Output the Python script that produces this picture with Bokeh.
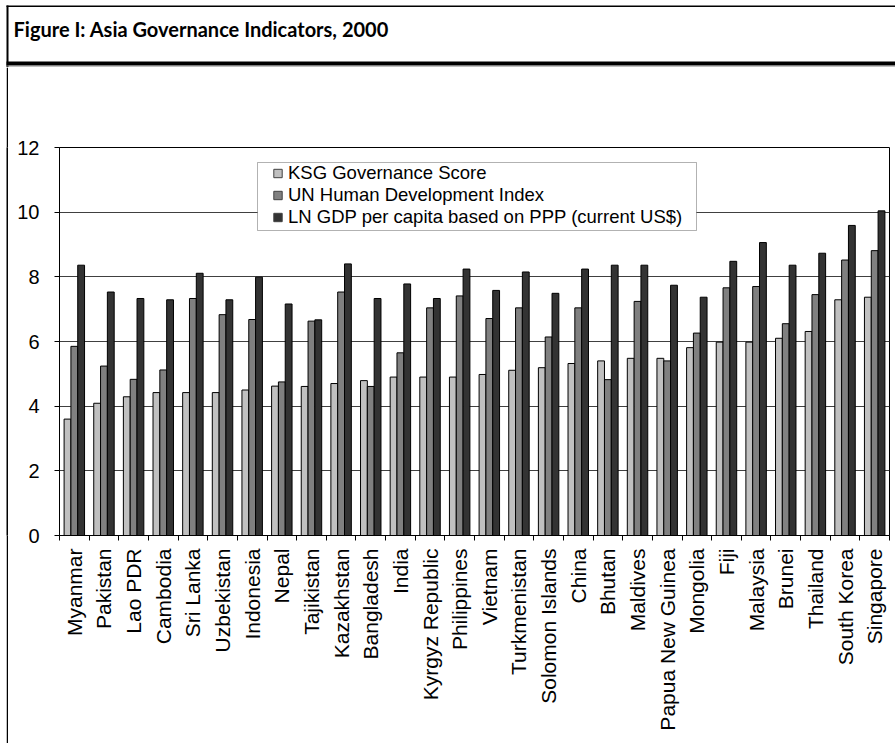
import numpy as np
from bokeh.plotting import figure
from bokeh.layouts import column, row
from bokeh.models import (Range1d, FixedTicker, Legend, LegendItem, Label, Spacer,
                          BoxAnnotation, ColumnDataSource)
from bokeh.transform import dodge
from bokeh.embed import file_html
from bokeh.resources import INLINE

# ---------------- data ----------------
countries = ["Myanmar", "Pakistan", "Lao PDR", "Cambodia", "Sri Lanka", "Uzbekistan",
             "Indonesia", "Nepal", "Tajikistan", "Kazakhstan", "Bangladesh", "India",
             "Kyrgyz Republic", "Philippines", "Vietnam", "Turkmenistan", "Solomon Islands",
             "China", "Bhutan", "Maldives", "Papua New Guinea", "Mongolia", "Fiji",
             "Malaysia", "Brunei", "Thailand", "South Korea", "Singapore"]
ksg = [3.60, 4.09, 4.29, 4.42, 4.42, 4.42, 4.50, 4.62, 4.61, 4.70, 4.79, 4.90, 4.90, 4.90,
       4.98, 5.11, 5.19, 5.32, 5.40, 5.48, 5.48, 5.81, 5.98, 5.98, 6.10, 6.31, 7.29, 7.37]
hdi = [5.85, 5.24, 4.83, 5.12, 7.33, 6.83, 6.68, 4.75, 6.63, 7.53, 4.61, 5.65, 7.04, 7.41,
       6.71, 7.04, 6.14, 7.04, 4.82, 7.24, 5.40, 6.26, 7.66, 7.70, 6.55, 7.45, 8.52, 8.81]
gdp = [8.36, 7.53, 7.33, 7.29, 8.11, 7.29, 7.99, 7.16, 6.67, 8.40, 7.33, 7.78, 7.33, 8.24,
       7.58, 8.15, 7.49, 8.24, 8.36, 8.36, 7.74, 7.37, 8.48, 9.06, 8.36, 8.73, 9.59, 10.04]
series_labels = ["KSG Governance Score", "UN Human Development Index",
                 "LN GDP per capita based on PPP (current US$)"]
y_ticks = [0, 2, 4, 6, 8, 10, 12]
title_text = "Figure I: Asia Governance Indicators, 2000"

colors = ["#c0c0c0", "#808080", "#333333"]
n = len(countries)
centers = [i + 0.5 for i in range(n)]
bounds = list(range(n + 1))
bw = 0.23

# ---------------- page geometry (pixels) ----------------
PW, PH = 895, 743
HEAD_H = 67          # header strip holding the title and the heavy rule
EDGE_X, EDGE_W = 6, 2  # page frame line on the left
FRAME_L, FRAME_R, FRAME_T, FRAME_B = 59, 889, 147, 535

def deco_fig(w, h, x0, y0, fill="white"):
    f = figure(width=w, height=h, x_range=Range1d(x0, x0 + w), y_range=Range1d(y0 + h, y0),
               output_backend="svg", toolbar_location=None, x_axis_type=None,
               y_axis_type=None, min_border=0, outline_line_color=None,
               background_fill_color=fill, border_fill_color=fill)
    f.xgrid.visible = False
    f.ygrid.visible = False
    return f

# ---- header: page frame top, title, heavy rule ----
head = deco_fig(PW, HEAD_H, 0, 0)
head.quad(left=[EDGE_X, EDGE_X, EDGE_X, EDGE_X], right=[PW, EDGE_X + EDGE_W, PW, PW],
          top=[5, 5, 61, 65], bottom=[6.5, HEAD_H, 65, 66],
          fill_color=["black", "black", "black", "#808080"], line_color=None)
head.add_layout(Label(x=13, y=28, text=title_text, text_font="Lato",
                      text_font_style="bold", text_font_size="20px", text_color="black",
                      text_baseline="middle", text_align="left"))

# ---- left edge of the page frame ----
gap = Spacer(width=EDGE_X, height=PH - HEAD_H)
edge = deco_fig(EDGE_W, PH - HEAD_H, 0, HEAD_H, fill="black")

# ---- main chart ----
MW, MH = PW - EDGE_X - EDGE_W, PH - HEAD_H
src = ColumnDataSource(dict(x=centers, ksg=ksg, hdi=hdi, gdp=gdp))

p = figure(width=MW, height=MH, output_backend="svg", toolbar_location=None,
           x_range=Range1d(0, n), y_range=Range1d(0, 12),
           min_border_left=FRAME_L - EDGE_X - EDGE_W, min_border_right=PW - FRAME_R,
           min_border_top=FRAME_T - HEAD_H, min_border_bottom=PH - FRAME_B,
           background_fill_color="white", border_fill_color="white",
           outline_line_color="black")

r1 = p.vbar(x=dodge("x", -bw, range=p.x_range), top="ksg", width=bw, source=src,
            fill_color=colors[0], line_color="black", line_width=1)
r2 = p.vbar(x=dodge("x", 0, range=p.x_range), top="hdi", width=bw, source=src,
            fill_color=colors[1], line_color="black", line_width=1)
r3 = p.vbar(x=dodge("x", bw, range=p.x_range), top="gdp", width=bw, source=src,
            fill_color=colors[2], line_color="black", line_width=1)

p.xgrid.visible = False
p.ygrid.grid_line_color = "#404040"
p.ygrid.grid_line_width = 1
p.ygrid.ticker = FixedTicker(ticks=y_ticks)

xa = p.xaxis[0]
xa.ticker = FixedTicker(ticks=centers, minor_ticks=bounds)
xa.major_label_overrides = {c: name for c, name in zip(centers, countries)}
xa.major_label_orientation = np.pi / 2
xa.major_tick_line_color = None
xa.major_tick_out = 0
xa.major_tick_in = 0
xa.minor_tick_line_color = "black"
xa.minor_tick_out = 5
xa.minor_tick_in = 0
xa.major_label_standoff = 8
xa.major_label_text_font = "Liberation Sans"
xa.major_label_text_font_size = "21px"
xa.major_label_text_color = "black"
xa.axis_line_color = "black"

ya = p.yaxis[0]
ya.ticker = FixedTicker(ticks=y_ticks)
ya.major_tick_out = 5
ya.major_tick_in = 0
ya.major_tick_line_color = "black"
ya.minor_tick_line_color = None
ya.major_label_standoff = 15
ya.major_label_text_font = "Liberation Sans"
ya.major_label_text_font_size = "20px"
ya.major_label_text_color = "black"
ya.axis_line_color = "black"

# legend frame
p.add_layout(BoxAnnotation(left=198, right=637, top=373, bottom=305,
                           left_units="screen", right_units="screen",
                           top_units="screen", bottom_units="screen",
                           fill_color="white", fill_alpha=1.0, line_color="black",
                           line_width=1))

# legend keys (legend-only square markers, same colours as the bars)
keys = []
for c in colors:
    keys.append(p.scatter(x=[np.nan], y=[np.nan], marker="square", fill_color=c,
                          line_color="#404040", line_width=1))

legend = Legend(items=[LegendItem(label=lab, renderers=[k])
                       for lab, k in zip(series_labels, keys)],
                location=(208, 307), orientation="vertical",
                padding=0, margin=0, spacing=0,
                glyph_width=21, glyph_height=22, label_height=22,
                label_standoff=0,
                label_text_font="Liberation Sans", label_text_font_size="18.5px",
                label_text_color="black",
                border_line_color=None, background_fill_alpha=0)
p.add_layout(legend)

layout = column(head, row(gap, edge, p))
open("out.html", "w").write(file_html(layout, INLINE))
